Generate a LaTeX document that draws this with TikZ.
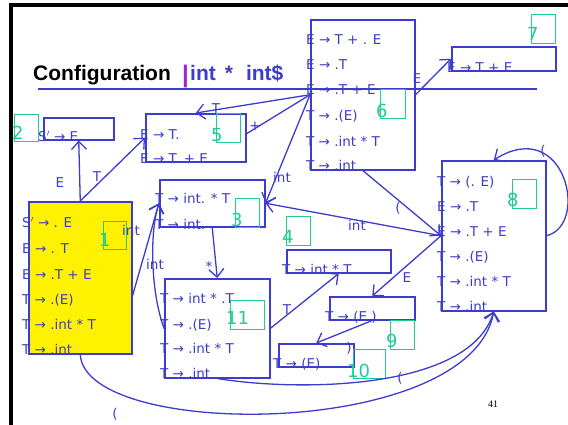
\documentclass[tikz,border=0pt]{standalone}
\usepackage{fontspec}
\setmainfont{DejaVu Sans}
\newfontfamily\titlefont{Liberation Sans}
\newfontfamily\pagefont{Liberation Serif}
\usetikzlibrary{arrows.meta,calc}
\definecolor{lblue}{RGB}{60,60,205}
\definecolor{lgreen}{RGB}{30,205,150}
\definecolor{lpurple}{RGB}{160,40,200}
\begin{document}
\begin{tikzpicture}[x=1pt,y=-1pt,
 bx/.style={draw=lblue,line width=1.5pt,inner sep=0,anchor=north west},
 gbx/.style={draw=lgreen,line width=1.4pt,inner sep=0,anchor=north west,minimum width=24pt,minimum height=29pt},
 itm/.style={text=lblue,font=\fontsize{13.5}{13.5}\selectfont,anchor=mid west,inner sep=0},
 num/.style={text=lgreen,font=\fontsize{18}{18}\selectfont,anchor=mid west,inner sep=0},
 lbl/.style={text=lblue,font=\fontsize{13.5}{13.5}\selectfont,inner sep=0},
 edge/.style={draw=lblue,line width=1.3pt,-{Straight Barb[length=8pt,width=15pt]}},
 plain/.style={draw=lblue,line width=1.3pt}]
\useasboundingbox (0,0) rectangle (568,424);
\fill[white] (0,0) rectangle (568,424);
% frame
\draw[line width=3.5pt,line cap=rect] (11,424) -- (11,5) -- (568,5);
% title
\node[anchor=base west,inner sep=0,font=\titlefont\bfseries\fontsize{21}{21}\selectfont] (title) at (33,80) {Configuration};
\node[anchor=base west,inner sep=0,text=lpurple,font=\titlefont\bfseries\fontsize{24}{24}\selectfont] (cursor) at (182,82) {|};
\node[anchor=base west,inner sep=0,text=lblue,font=\titlefont\bfseries\fontsize{21}{21}\selectfont] (input) at (190,80) {int\hspace{9pt}*\hspace{13pt}int\$};
\draw[lblue,line width=1.2pt] (38,89) -- (537,89);
% boxes
\node[bx,fill=yellow,minimum width=103pt,minimum height=152pt] (b1) at (28,201) {};
\node[bx,minimum width=70pt,minimum height=22pt] (b2) at (43,117) {};
\node[bx,minimum width=100pt,minimum height=48pt] (b5) at (145,113) {};
\node[bx,minimum width=104pt,minimum height=150pt] (b6) at (310,19) {};
\node[bx,minimum width=104pt,minimum height=24pt] (b7) at (451,46) {};
\node[bx,minimum width=105pt,minimum height=47pt] (b3) at (159,179) {};
\node[bx,minimum width=104pt,minimum height=23pt] (b4) at (286,249) {};
\node[bx,minimum width=104pt,minimum height=150pt] (b8) at (441,160) {};
\node[bx,minimum width=85pt,minimum height=23pt] (b9) at (329,296) {};
\node[bx,minimum width=75pt,minimum height=23pt] (b10) at (278,343) {};
\node[bx,minimum width=105pt,minimum height=99pt] (b11) at (164,278) {};
% green squares
\node[gbx,minimum width=23pt,minimum height=28pt] (g1) at (103,221) {};
\node[gbx,minimum height=27pt] (g2) at (14,114) {};
\node[gbx] (g5) at (216,113) {};
\node[gbx,minimum width=25pt] (g6) at (380,89) {};
\node[gbx] (g7) at (531,14) {};
\node[gbx] (g3) at (235,198) {};
\node[gbx] (g4) at (286,216) {};
\node[gbx] (g8) at (512,179) {};
\node[gbx] (g9) at (390,320) {};
\node[gbx,minimum width=32pt] (g10) at (353,349) {};
\node[gbx,minimum width=34pt] (g11) at (230,300) {};
% numbers
\node[num] (n1) at (99,244) {1};
\node[num] (n2) at (12,137) {2};
\node[num] (n5) at (211,139) {5};
\node[num] (n6) at (376,115) {6};
\node[num] (n7) at (527,38) {7};
\node[num] (n3) at (231,224) {3};
\node[num] (n4) at (282,241) {4};
\node[num] (n8) at (507,204) {8};
\node[num] (n9) at (386,345) {9};
\node[num] (n10) at (347,375) {10};
\node[num] (n11) at (226,322) {11};
% edges
\draw[edge] (b1.north) -- (b2.south);
\draw[edge] (b1.north) -- (b5.west);
\draw[edge] ($(b1.east)+(0,18)$) -- (b3.west);
\draw[edge] (b11.west) .. controls (150,290) and (150,230) .. (b3.west);
\draw[edge] (b3.south) -- (b11.north);
\draw[edge] (b6.west) -- (b5.north);
\draw[plain] ($(b5.east)+(0,-4)$) -- (b6.west);
\draw[edge] (b6.west) -- (b3.east);
\draw[edge] (b6.east) -- (b7.west);
\draw[edge] (b6.south) -- (b8.west);
\draw[edge] (b8.west) -- (b3.east);
\draw[edge] (b8.west) -- (b9.north);
\draw[edge] (b8.east) .. controls (590,225) and (565,115) .. (b8.north);
\draw[edge] (b11.east) -- (b4.south);
\draw[edge] (b9.south) -- (b10.north);
\draw[edge] (b1.south) .. controls (85,440) and (470,440) .. (b8.south);
\draw[edge] (b11.south) .. controls (300,392) and (470,390) .. (b8.south);
% edge labels
\node[lbl] (lE1) at (60,183) {E};
\node[lbl] (lT1) at (97,177) {T};
\node[lbl] (lint1) at (131,230) {int};
\node[lbl] (lint2) at (155,264) {int};
\node[lbl] (lstar) at (209,266) {*};
\node[lbl] (lT2) at (216,109) {T};
\node[lbl] (lplus) at (255,126) {+};
\node[lbl] (lint3) at (282,177) {int};
\node[lbl] (lE2) at (417,79) {E};
\node[lbl] (lp1) at (398,208) {(};
\node[lbl] (lint4) at (357,225) {int};
\node[lbl] (lE3) at (407,278) {E};
\node[lbl] (lp2) at (543,151) {(};
\node[lbl] (lT3) at (287,310) {T};
\node[lbl] (lrp) at (349,348) {)};
\node[lbl] (lp3) at (400,378) {(};
\node[lbl] (lp4) at (115,414) {(};
% items box 1
\node[itm] (i1a) at (22,225) {S$'$ → . E};
\node[itm] (i1b) at (22,251) {E → . T};
\node[itm] (i1c) at (22,277) {E → .T + E};
\node[itm] (i1d) at (22,302) {T → .(E)};
\node[itm] (i1e) at (22,327) {T → .int * T};
\node[itm] (i1f) at (22,352) {T → .int};
% box 2
\node[itm] (i2) at (38,139) {S$'$ → E.};
% box 5
\node[itm] (i5a) at (140,137) {E → T.};
\node[itm] (i5b) at (140,161) {E → T. + E};
% box 6
\node[itm] (i6a) at (306,42) {E → T + . E};
\node[itm] (i6b) at (306,67) {E → .T};
\node[itm] (i6c) at (306,92) {E → .T + E};
\node[itm] (i6d) at (306,118) {T → .(E)};
\node[itm] (i6e) at (306,144) {T → .int * T};
\node[itm] (i6f) at (306,168) {T → .int};
% box 7
\node[itm] (i7) at (447,70) {E → T + E.};
% box 3
\node[itm] (i3a) at (155,201) {T → int. * T};
\node[itm] (i3b) at (155,227) {T → int.};
% box 4
\node[itm] (i4) at (282,272) {T → int * T.};
% box 8
\node[itm] (i8a) at (437,184) {T → (. E)};
\node[itm] (i8b) at (437,209) {E → .T};
\node[itm] (i8c) at (437,234) {E → .T + E};
\node[itm] (i8d) at (437,259) {T → .(E)};
\node[itm] (i8e) at (437,284) {T → .int * T};
\node[itm] (i8f) at (437,309) {T → .int};
% box 9
\node[itm] (i9) at (325,319) {T → (E.)};
% box 10
\node[itm] (i10) at (273,366) {T → (E).};
% box 11
\node[itm] (i11a) at (160,301) {T → int * .T};
\node[itm] (i11b) at (160,327) {T → .(E)};
\node[itm] (i11c) at (160,351) {T → .int * T};
\node[itm] (i11d) at (160,376) {T → .int};
% page number
\node[inner sep=0,font=\pagefont\fontsize{10}{10}\selectfont] (page) at (493,404) {41};
\end{tikzpicture}
\end{document}
